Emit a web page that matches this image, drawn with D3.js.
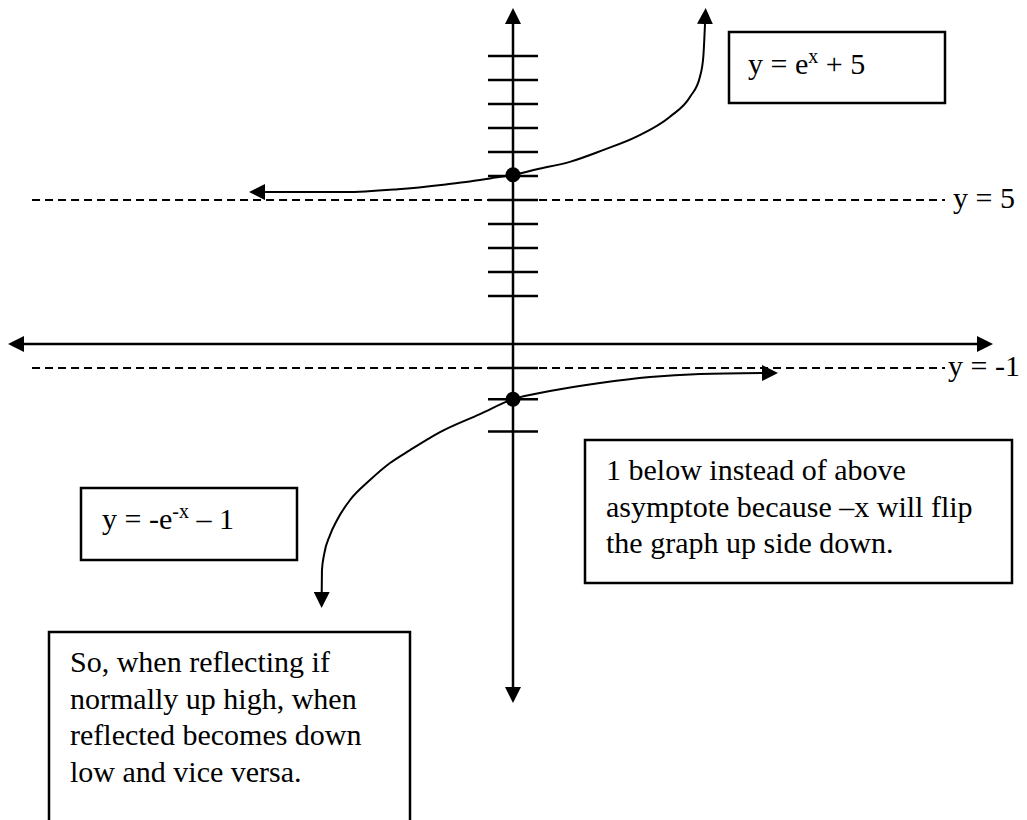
<!DOCTYPE html>
<html lang="en">
<head>
    <meta charset="UTF-8">
    <title>Reflection of exponentials</title>
    <script src="https://cdn.jsdelivr.net/npm/d3@7"></script>
</head>
<style>
    body { margin: 0; background: #fff; }
    svg { display: block; background: #fff; }
    text { font-family: "Liberation Serif", "Times New Roman", serif; font-size: 30px; fill: #000; }
</style>
<body>
    <div id="graphDiv"></div>

    <script>
        // grid units (1 unit = one tick spacing on the y axis)
        var axisXEnds = [-21.04, 20.0]
        var axisYEnds = [-14.96, 14.0]
        var tickValues = [12, 11, 10, 9, 8, 7, 6, 5, 4, 3, 2, -1, -2.3, -3.65]

        var asymptoteY = [6, -1]
        var asymptoteLabels = ["y = 5", "y = -1"]
        var asymptoteSpan = [-20.04, 18]

        // y = e^x + 5 (left arrow base -> top arrow base)
        var growthX = [-10.33, -7, -4.8, -2.8, -1.8, -0.95, 0, 1, 2.4, 3.75, 5.15, 6.54, 7.38, 7.79, 7.93, 8]
        var growthY = [6.33, 6.33, 6.45, 6.65, 6.77, 6.9, 7.05, 7.28, 7.6, 8.08, 8.64, 9.47, 10.3, 11.14, 11.97, 13.33]

        // y = -e^-x - 1 (bottom arrow base -> right arrow base)
        var decayX = [-7.97, -7.96, -7.875, -7.625, -7.33, -6.79, -5.96, -5.125, -4.29, -3.04, -1.375, 0, 1.54, 3.625, 5.71, 7.79, 10.375]
        var decayY = [-10.33, -9.42, -8.79, -7.96, -7.33, -6.5, -5.67, -4.96, -4.42, -3.67, -2.92, -2.3, -1.96, -1.625, -1.375, -1.25, -1.21]

        var interceptX = [0, 0]
        var interceptY = [7.05, -2.3]

        var growthLabel = ["y = e", "x", " + 5"]
        var decayLabel = ["y = -e", "-x", " \u2013 1"]
        var noteRight = ["1 below instead of above", "asymptote because \u2013x will flip", "the graph up side down."]
        var noteBottom = ["So, when reflecting if", "normally up high, when", "reflected becomes down", "low and vice versa."]

        var width = 1027
        var height = 820
        var arrowLen = 16

        var xScale = d3.scaleLinear().domain([0, 1]).range([513, 537])
        var yScale = d3.scaleLinear().domain([0, 1]).range([344, 320])

        var svg = d3.select('#graphDiv')
                    .append('svg')
                    .attr('width', width)
                    .attr('height', height)

        svg.append('defs').append('marker')
            .attr('id', 'arrow')
            .attr('markerUnits', 'userSpaceOnUse')
            .attr('viewBox', '0 0 16 16')
            .attr('markerWidth', 16)
            .attr('markerHeight', 16)
            .attr('refX', 0)
            .attr('refY', 8)
            .attr('orient', 'auto-start-reverse')
            .append('path')
            .attr('d', 'M0,0 L16,8 L0,16 Z')
            .attr('fill', '#000')

        // dashed asymptotes
        svg.append('g')
            .selectAll('line')
            .data(asymptoteY)
            .join('line')
            .attr('x1', xScale(asymptoteSpan[0]))
            .attr('x2', xScale(asymptoteSpan[1]))
            .attr('y1', d => yScale(d))
            .attr('y2', d => yScale(d))
            .attr('stroke', '#000')
            .attr('stroke-width', 2)
            .attr('stroke-dasharray', '8,5')

        svg.append('g')
            .selectAll('text')
            .data(asymptoteY)
            .join('text')
            .attr('x', (d, i) => xScale(asymptoteSpan[1]) + (i === 0 ? 8 : 3))
            .attr('y', d => yScale(d) + 8)
            .text((d, i) => asymptoteLabels[i])

        // axes with arrow heads
        var axes = svg.append('g').attr('stroke', '#000').attr('stroke-width', 2.5)
        axes.append('line')
            .attr('x1', xScale(axisXEnds[0]) + arrowLen)
            .attr('x2', xScale(axisXEnds[1]) - arrowLen)
            .attr('y1', yScale(0))
            .attr('y2', yScale(0))
            .attr('marker-start', 'url(#arrow)')
            .attr('marker-end', 'url(#arrow)')
        axes.append('line')
            .attr('x1', xScale(0))
            .attr('x2', xScale(0))
            .attr('y1', yScale(axisYEnds[1]) + arrowLen)
            .attr('y2', yScale(axisYEnds[0]) - arrowLen)
            .attr('marker-start', 'url(#arrow)')
            .attr('marker-end', 'url(#arrow)')

        axes.selectAll('.tick')
            .data(tickValues)
            .join('line')
            .attr('class', 'tick')
            .attr('x1', xScale(0) - 25)
            .attr('x2', xScale(0) + 25)
            .attr('y1', d => yScale(d))
            .attr('y2', d => yScale(d))

        // curves
        var line = d3.line()
                    .x(d => xScale(d[0]))
                    .y(d => yScale(d[1]))
                    .curve(d3.curveMonotoneX)

        var curves = [
            d3.zip(growthX, growthY),
            d3.zip(decayX, decayY)
        ]
        svg.append('g')
            .selectAll('path')
            .data(curves)
            .join('path')
            .attr('d', line)
            .attr('fill', 'none')
            .attr('stroke', '#000')
            .attr('stroke-width', 2)
            .attr('marker-start', 'url(#arrow)')
            .attr('marker-end', 'url(#arrow)')

        svg.append('g')
            .selectAll('circle')
            .data(d3.zip(interceptX, interceptY))
            .join('circle')
            .attr('cx', d => xScale(d[0]))
            .attr('cy', d => yScale(d[1]))
            .attr('r', 7.5)
            .attr('fill', '#000')

        // text boxes
        function box(x, y, w, h) {
            svg.append('rect')
                .attr('x', x).attr('y', y)
                .attr('width', w).attr('height', h)
                .attr('fill', '#fff')
                .attr('stroke', '#000')
                .attr('stroke-width', 2.5)
        }

        function formula(parts, x, y) {
            var t = svg.append('text').attr('x', x).attr('y', y)
            t.append('tspan').text(parts[0])
            t.append('tspan').attr('font-size', 20).attr('dy', -11).text(parts[1])
            t.append('tspan').attr('dy', 11).text(parts[2])
        }

        function note(lines, x, y, lh) {
            svg.append('g')
                .selectAll('text')
                .data(lines)
                .join('text')
                .attr('x', x)
                .attr('y', (d, i) => y + i * lh)
                .text(d => d)
        }

        box(729, 32, 216, 71)
        formula(growthLabel, 748, 74)

        box(81, 488, 216, 72)
        formula(decayLabel, 102, 529)

        box(585, 440, 427, 143)
        note(noteRight, 606, 480, 36.5)

        box(49, 632, 361, 200)
        note(noteBottom, 70, 672, 36.7)
    </script>
</body>
</html>
